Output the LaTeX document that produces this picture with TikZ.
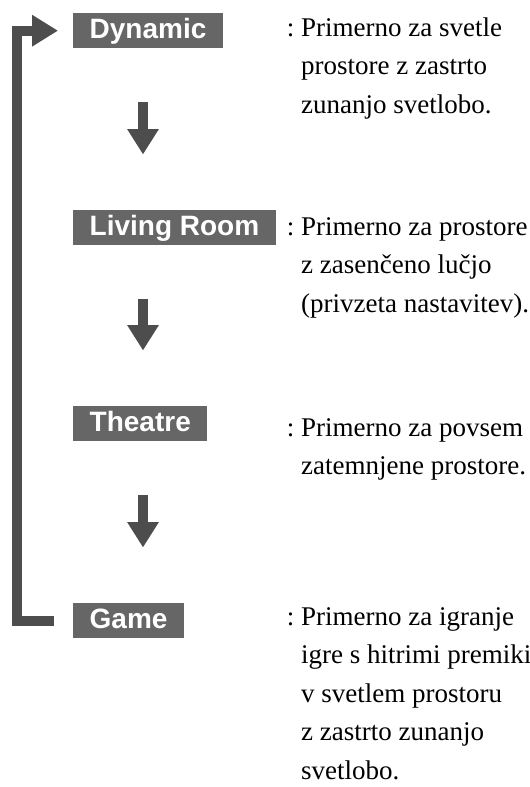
\documentclass[tikz,border=0pt]{standalone}
\usepackage{fontspec}
\setmainfont{Liberation Serif}
\newfontfamily\modefont{Liberation Sans}
\usepackage{tikz}
\usetikzlibrary{positioning,calc,arrows.meta}
\usepackage{xcolor}
\definecolor{modefill}{RGB}{102,102,102}
\definecolor{arrowgray}{RGB}{77,77,77}

\begin{document}
\begin{tikzpicture}[x=1pt,y=-1pt,
  modebox/.style={fill=modefill,text=white,anchor=north west,
    font=\modefont\bfseries\fontsize{28}{30}\selectfont,
    inner xsep=16.5pt,inner ysep=0pt,text height=25pt,text depth=10pt},
  desc/.style={anchor=north west,align=left,inner sep=0pt,
    font=\fontsize{27}{38.5}\selectfont},
  flow/.style={arrowgray,line width=10pt,
    -{Triangle[width=30pt,length=25.5pt]},shorten <=54pt,shorten >=55.5pt},
  loopback/.style={arrowgray,line width=10pt,line join=miter,
    -{Triangle[width=30pt,length=26pt]}}]
  \useasboundingbox (0,0) rectangle (530,787);
  % mode boxes
  \foreach \n/\lbl/\y in {dyn/Dynamic/13, liv/Living Room/210,
                          the/Theatre/406, gam/Game/603}
    \node[modebox] (\n) at (73,\y) {\lbl};
  % down arrows between modes
  \foreach \a/\b in {dyn/liv, liv/the, the/gam}
    \draw[flow] ([xshift=70pt]\a.south west) -- ([xshift=70pt]\a.south west |- \b.north);
  % back to the first mode
  \coordinate (rail) at (17,300);
  \draw[loopback] ([xshift=-19pt]gam.west) -| (rail) |- ([xshift=-15pt]dyn.west);
  % descriptions
  \node[desc] (dyn-txt) at (301,17.5)
    {\llap{:\ }Primerno za svetle\\prostore z zastrto\\zunanjo svetlobo.};
  \node[desc] (liv-txt) at (301,217)
    {\llap{:\ }Primerno za prostore\\z zasenčeno lučjo\\(privzeta nastavitev).};
  \node[desc] (the-txt) at (301,418)
    {\llap{:\ }Primerno za povsem\\zatemnjene prostore.};
  \node[desc] (gam-txt) at (301,607)
    {\llap{:\ }Primerno za igranje\\igre s hitrimi premiki\\v svetlem prostoru\\z zastrto zunanjo\\svetlobo.};
\end{tikzpicture}
\end{document}
